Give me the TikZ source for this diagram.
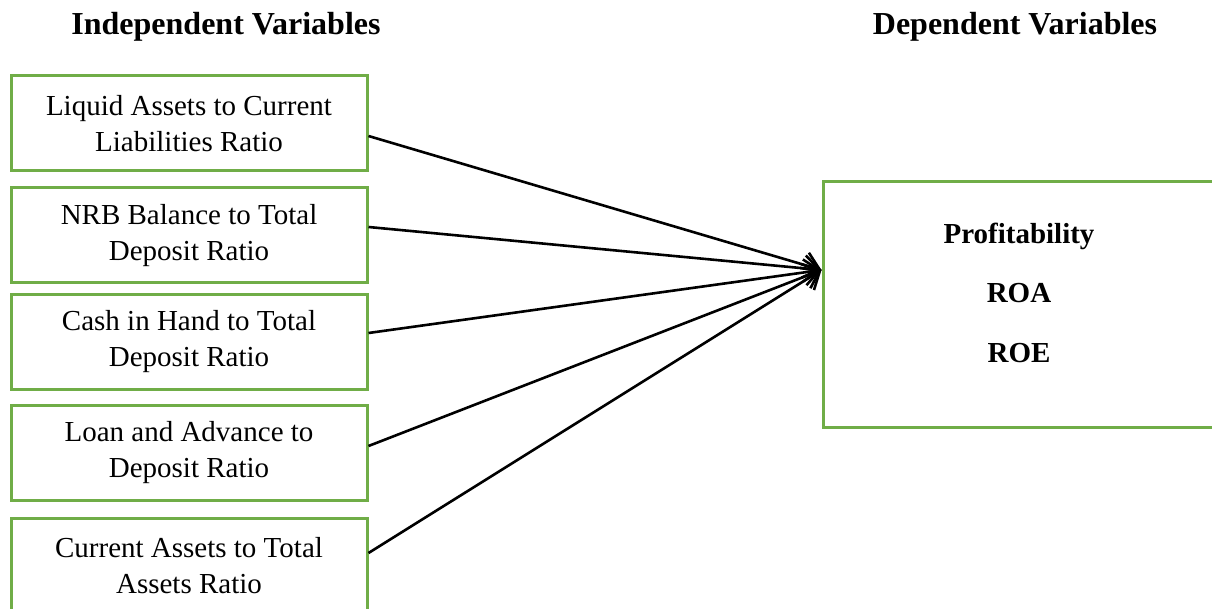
\documentclass[tikz,border=0pt]{standalone}
\usepackage{fontspec}
\setmainfont{Liberation Serif}
\usetikzlibrary{arrows.meta}
\definecolor{boxgreen}{HTML}{70AD47}
\begin{document}
\begin{tikzpicture}[x=1pt,y=-1pt,
  ibox/.style={draw=boxgreen, line width=3pt, minimum width=356pt, minimum height=95pt,
    inner sep=0pt, align=center, font=\fontsize{29}{36}\selectfont},
  dbox/.style={draw=boxgreen, line width=3pt, minimum width=392pt, minimum height=245pt, inner sep=0pt},
  title/.style={anchor=base, font=\fontsize{32}{38}\selectfont\bfseries},
  dtext/.style={anchor=base, font=\fontsize{29}{36}\selectfont\bfseries},
  arr/.style={line width=2.6pt, -{Straight Barb[length=15pt,width=26pt,line width=2.6pt]}}]
\useasboundingbox (0,0) rectangle (1212,609);
\clip (0,0) rectangle (1212,609);
\node[title] (ti) at (226,35) {Independent Variables};
\node[title] (td) at (1015,35) {Dependent Variables};
\node[ibox] (b1) at (189,123.5) {Liquid Assets to Current\\Liabilities Ratio};
\node[ibox] (b2) at (189,235.5) {NRB Balance to Total\\Deposit Ratio};
\node[ibox] (b3) at (189,342) {Cash in Hand to Total\\Deposit Ratio};
\node[ibox] (b4) at (189,453) {Loan and Advance to\\Deposit Ratio};
\node[ibox] (b5) at (189,566) {Current Assets to Total\\Assets Ratio};
\node[dbox] (p) at (1019,304.5) {};
\node[dtext] (p1) at (1019,244) {Profitability};
\node[dtext] (p2) at (1019,303) {ROA};
\node[dtext] (p3) at (1019,362) {ROE};
\coordinate (tip) at ([yshift=34.5pt]p.west);
\draw[arr] ([yshift=-12.5pt]b1.east) -- (tip);
\draw[arr] ([yshift=8.5pt]b2.east) -- (tip);
\draw[arr] ([yshift=9pt]b3.east) -- (tip);
\draw[arr] ([yshift=7pt]b4.east) -- (tip);
\draw[arr] ([yshift=13pt]b5.east) -- (tip);
\end{tikzpicture}
\end{document}
